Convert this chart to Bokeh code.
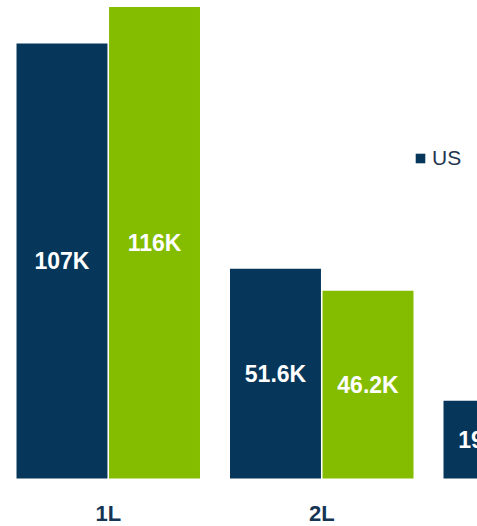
from bokeh.plotting import figure
from bokeh.models import ColumnDataSource, Range1d, Legend, LegendItem
from bokeh.transform import dodge
from bokeh.core.properties import value
from bokeh.embed import file_html
from bokeh.resources import INLINE

categories = ["1L", "2L", "3L"]
us_values = [107, 51.6, 19.1]
green_values = [116, 46.2, 17.0]
series_names = ["US", "Other"]

NAVY = "#06375a"
GREEN = "#84bd00"

xs = [i + 0.5 for i in range(len(categories))]
src = ColumnDataSource(dict(
    x=xs,
    cat=categories,
    us=us_values,
    green=green_values,
    us_mid=[v / 2 for v in us_values],
    green_mid=[v / 2 for v in green_values],
    us_lbl=["{:.3g}K".format(v) for v in us_values],
    green_lbl=["{:.3g}K".format(v) for v in green_values],
    zero=[0] * len(categories),
))

p = figure(width=477, height=526, output_backend="svg", toolbar_location=None,
           x_range=Range1d(-0.0047, 2.2295), y_range=Range1d(-11.81, 117.59),
           min_border=0, min_border_left=0, min_border_right=0,
           min_border_top=0, min_border_bottom=0)
p.outline_line_color = None
p.xgrid.visible = False
p.ygrid.visible = False
p.xaxis.visible = False
p.yaxis.visible = False
p.background_fill_color = "white"

W = 0.426
OFF = 0.2167
r_us = p.vbar(x=dodge("x", -OFF), top="us", width=W, source=src,
              fill_color=NAVY, line_color=None)
r_gr = p.vbar(x=dodge("x", OFF), top="green", width=W, source=src,
              fill_color=GREEN, line_color=None)

font = value("Liberation Sans")
p.text(x=dodge("x", -OFF), y="us_mid", text="us_lbl", source=src,
       text_color="white", text_font=font, text_font_style="bold",
       text_font_size="23px", text_align="center", text_baseline="middle")
p.text(x=dodge("x", OFF), y="green_mid", text="green_lbl", source=src,
       text_color="white", text_font=font, text_font_style="bold",
       text_font_size="23px", text_align="center", text_baseline="middle")

# category labels below the baseline
p.text(x="x", y="zero", text="cat", source=src, y_offset=35,
       text_color="#163554", text_font=font, text_font_style="bold",
       text_font_size="22px", text_align="center", text_baseline="middle")

legend = Legend(items=[LegendItem(label=series_names[0], renderers=[r_us])],
                location=(414, 356), orientation="vertical",
                glyph_width=12, glyph_height=12, label_standoff=6,
                label_text_font="Liberation Sans", label_text_font_size="21px",
                label_text_color="#1f3550", padding=0, margin=0,
                border_line_color=None, background_fill_alpha=0,
                label_height=20)
p.add_layout(legend, "center")

open("out.html", "w").write(file_html(p, INLINE))
